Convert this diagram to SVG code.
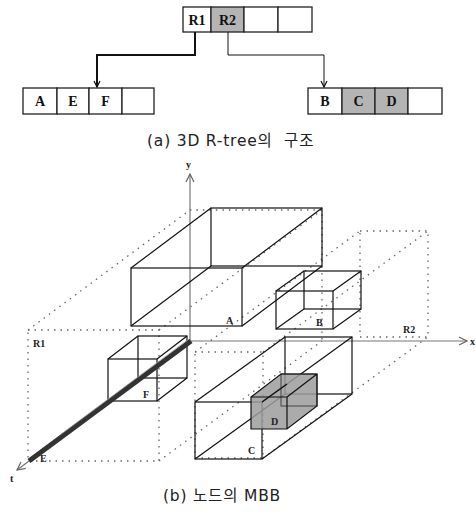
<svg xmlns="http://www.w3.org/2000/svg" width="476" height="517" viewBox="0 0 476 517">
<style>
.cell{fill:#fff;stroke:#222;stroke-width:1.3}
.sh{fill:#b4b4b4}
.lab{font-family:"Liberation Serif",serif;font-weight:bold;font-size:14px;fill:#111;text-anchor:middle}
.small{font-family:"Liberation Serif",serif;font-weight:bold;font-size:10px;fill:#222}
.cap{font-family:"DejaVu Sans","Noto Sans CJK KR",sans-serif;font-size:15.5px;letter-spacing:0.8px;fill:#222;white-space:pre}
.edge{fill:none;stroke:#111;stroke-width:1.2}
.dot{fill:none;stroke:#666;stroke-width:1.3;stroke-dasharray:1.5 5}
.axis{fill:none;stroke:#777;stroke-width:1.2}
.conn{fill:none;stroke:#111}
</style>
<defs>
<marker id="ah" markerWidth="8" markerHeight="8" refX="7" refY="4" orient="auto" markerUnits="userSpaceOnUse">
<path d="M1,1 L7,4 L1,7" fill="none" stroke="#111" stroke-width="1.2"/>
</marker>
<marker id="ax" markerWidth="10" markerHeight="10" refX="9" refY="5" orient="auto" markerUnits="userSpaceOnUse">
<path d="M1,1 L9,5 L1,9" fill="none" stroke="#666" stroke-width="1.2"/>
</marker>
</defs>

<!-- (a) R-tree -->
<g id="root">
<rect class="cell" x="183" y="7" width="28" height="25"/>
<rect class="cell sh" x="211" y="7" width="33" height="25"/>
<rect class="cell" x="244" y="7" width="34" height="25"/>
<rect class="cell" x="278" y="7" width="34" height="25"/>
<text class="lab" x="197" y="25">R1</text>
<text class="lab" x="227.5" y="25">R2</text>
</g>
<g id="leafL">
<rect class="cell" x="23" y="88" width="34" height="26"/>
<rect class="cell" x="57" y="88" width="32" height="26"/>
<rect class="cell" x="89" y="88" width="33" height="26"/>
<rect class="cell" x="122" y="88" width="32" height="26"/>
<text class="lab" x="40" y="106">A</text>
<text class="lab" x="73" y="106">E</text>
<text class="lab" x="105.5" y="106">F</text>
</g>
<g id="leafR">
<rect class="cell" x="308" y="88" width="34" height="26"/>
<rect class="cell sh" x="342" y="88" width="33" height="26"/>
<rect class="cell sh" x="375" y="88" width="33" height="26"/>
<rect class="cell" x="408" y="88" width="34" height="26"/>
<text class="lab" x="325" y="106">B</text>
<text class="lab" x="358.5" y="106">C</text>
<text class="lab" x="391.5" y="106">D</text>
</g>
<g id="tree-connectors">
<path class="conn" stroke-width="2" d="M195,32 V55 H97 V87" marker-end="url(#ah)"/>
<path class="conn" stroke-width="1" d="M228,32 V55 H324 V87" marker-end="url(#ah)"/>
</g>
<text class="cap" x="147" y="146">(a) 3D R-tree의  구조</text>

<!-- (b) MBB -->
<g id="axes">
<line class="axis" x1="190" y1="341" x2="190" y2="174" marker-end="url(#ax)"/>
<line class="axis" x1="190" y1="341" x2="467" y2="341" marker-end="url(#ax)"/>
<line class="axis" x1="190" y1="341" x2="17" y2="470" marker-end="url(#ax)"/>
<text class="small" x="186" y="168">y</text>
<text class="small" x="470" y="345">x</text>
<text class="small" x="10" y="482">t</text>
</g>

<g id="R1">
<rect class="dot" x="28" y="330" width="131" height="131"/>
<path class="dot" d="M28,330 L190,210 H322 V341 M159,330 L322,210 M159,461 L322,341"/>
<text class="small" x="33" y="347">R1</text>
</g>

<g id="R2">
<rect class="dot" x="195" y="352" width="68" height="106"/>
<rect class="dot" x="360" y="231" width="68" height="106"/>
<path class="dot" d="M195,352 L360,231 M263,352 L428,231 M263,458 L428,337"/>
<text class="small" x="403" y="333">R2</text>
</g>

<g id="A">
<rect class="edge" x="211" y="208" width="111" height="58"/>
<rect class="edge" x="131" y="268" width="111" height="58"/>
<path class="edge" stroke-width="1.6" d="M131,268 L211,208 M242,268 L322,208 M131,326 L211,266 M242,326 L322,266"/>
<text class="small" x="226" y="324">A</text>
</g>

<g id="B">
<rect class="edge" x="304" y="271" width="57" height="38"/>
<rect class="edge" x="276" y="291" width="57" height="38"/>
<path class="edge" d="M276,291 L304,271 M333,291 L361,271 M276,329 L304,309 M333,329 L361,309"/>
<text class="small" x="316" y="326">B</text>
</g>

<g id="F">
<rect class="edge" x="138" y="336" width="49" height="42"/>
<rect class="edge" x="108" y="359" width="49" height="42"/>
<path class="edge" d="M108,359 L138,336 M157,359 L187,336 M108,401 L138,378 M157,401 L187,378"/>
<text class="small" x="143" y="398">F</text>
</g>

<g id="E">
<line x1="191" y1="341" x2="29" y2="461" stroke="#333" stroke-width="5"/>
<line x1="189" y1="339" x2="60" y2="435" stroke="#999" stroke-width="0.8"/>
<text class="small" x="40" y="462">E</text>
</g>

<g id="C">
<rect class="edge" x="285" y="337" width="67" height="57"/>
<rect class="edge" x="195" y="402" width="67" height="57"/>
<path class="edge" stroke-width="1.5" d="M195,402 L285,337 M262,402 L352,337 M195,459 L285,394 M262,459 L352,394"/>
<text class="small" x="248" y="454">C</text>
</g>

<g id="D">
<path d="M251,397 L281,374 H317 V406 L287,429 H251 Z" fill="#9c9c9c" fill-opacity="0.85"/>
<rect fill="none" stroke="#444" stroke-width="1" x="281" y="374" width="36" height="32"/>
<path class="edge" d="M251,397 L281,374 H317 V406 L287,429 H251 Z M251,397 H287 V429 M287,397 L317,374"/>
<line x1="262" y1="402" x2="287" y2="384" stroke="#111" stroke-width="1.5"/>
<text class="small" x="271" y="425">D</text>
</g>

<text class="cap" x="163" y="501">(b) 노드의 MBB</text>
</svg>
